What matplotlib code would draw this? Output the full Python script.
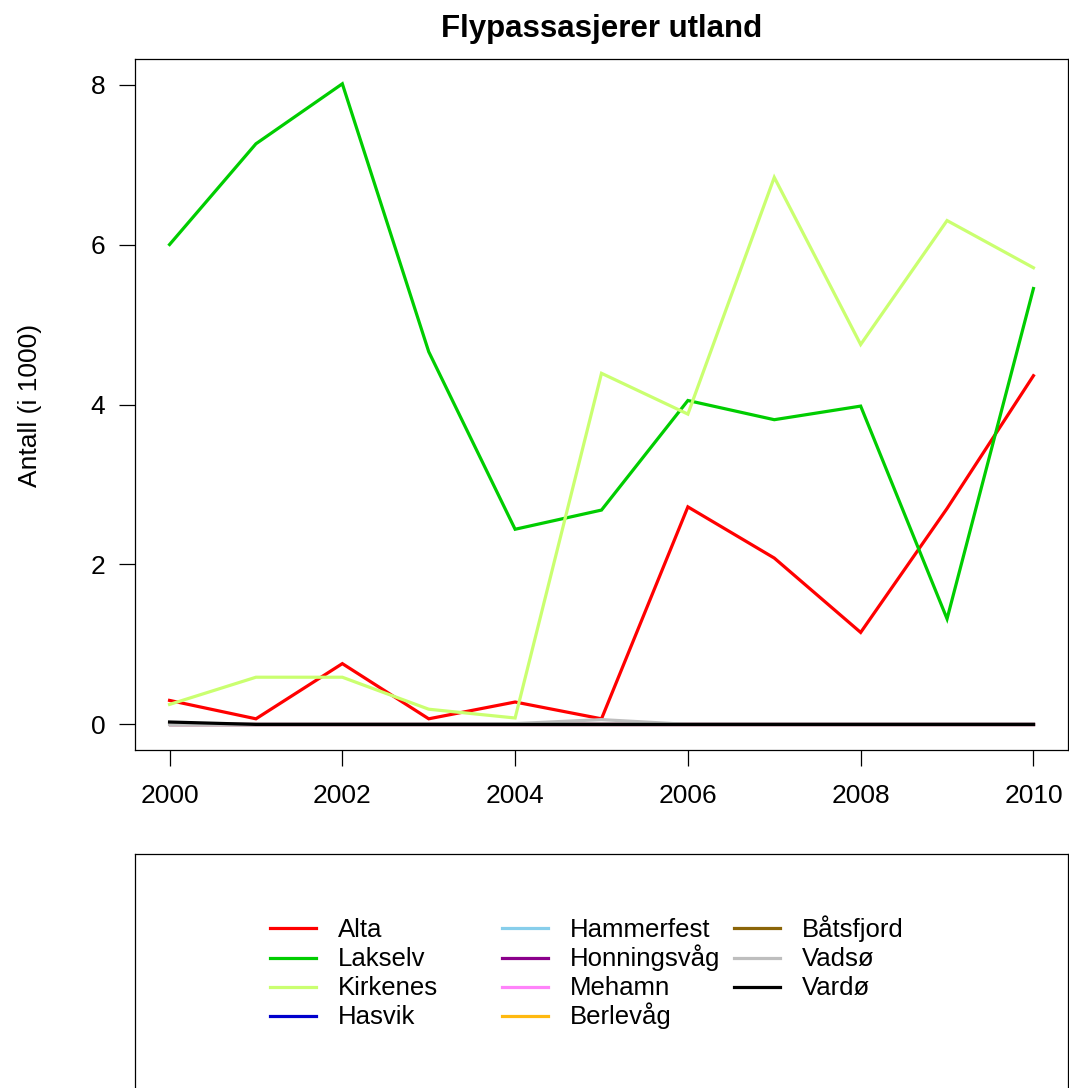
import matplotlib
matplotlib.use("Agg")
import matplotlib.pyplot as plt
from matplotlib.lines import Line2D

plt.rcParams["font.family"] = ["Liberation Sans", "DejaVu Sans"]

# ── data (antall passasjerer utland, i 1000) ─────────────────────
years = list(range(2000, 2011))

alta        = [0.30, 0.07, 0.76, 0.07, 0.28, 0.07, 2.72, 2.08, 1.15, 2.70, 4.36]
lakselv     = [6.00, 7.26, 8.01, 4.66, 2.44, 2.68, 4.05, 3.81, 3.98, 1.32, 5.45]
kirkenes    = [0.25, 0.59, 0.59, 0.19, 0.08, 4.39, 3.88, 6.84, 4.75, 6.30, 5.71]
hasvik      = [0, 0, 0, 0, 0, 0, 0, 0, 0, 0, 0]
hammerfest  = [0, 0, 0, 0, 0, 0, 0, 0, 0, 0, 0]
honningsvag = [0, 0, 0, 0, 0, 0, 0, 0, 0, 0, 0]
mehamn      = [0, 0, 0, 0, 0, 0, 0, 0, 0, 0, 0]
berlevag    = [0, 0, 0, 0, 0, 0, 0, 0, 0, 0, 0]
batsfjord   = [0, 0, 0, 0, 0, 0, 0, 0, 0, 0, 0]
vadso       = [0, 0, 0, 0, 0.01, 0.06, 0, 0, 0, 0, 0]
vardo       = [0.03, 0, 0, 0, 0, 0, 0, 0, 0, 0, 0]

names = ["Alta", "Lakselv", "Kirkenes", "Hasvik", "Hammerfest", "Honningsvåg",
         "Mehamn", "Berlevåg", "Båtsfjord", "Vadsø", "Vardø"]
series = [alta, lakselv, kirkenes, hasvik, hammerfest, honningsvag,
          mehamn, berlevag, batsfjord, vadso, vardo]
colors = ["#FF0000", "#00CD00", "#CAFF70", "#0000CD", "#87CEEB", "#8B008B",
          "#FF83FA", "#FFB90F", "#8B6508", "#BEBEBE", "#000000"]

W, H = 1069, 1088
fig = plt.figure(figsize=(W / 100, H / 100), dpi=100)

# ── hovedplott ──────────────────────────────────────────────────
ax = fig.add_axes([135 / W, (H - 750) / H, (1068 - 135) / W, (750 - 59) / H])
for name, vals, col in zip(names, series, colors):
    ax.plot(years, vals, color=col, lw=2.3, label=name, solid_joinstyle="miter")

ax.set_xlim(2000 - 0.4, 2010 + 0.4)
ax.set_ylim(-0.32, 8.32)
ax.set_xticks([2000, 2002, 2004, 2006, 2008, 2010])
ax.set_yticks([0, 2, 4, 6, 8])
ax.tick_params(axis="both", direction="out", length=11.5, width=0.9,
               labelsize=19, colors="black")
ax.tick_params(axis="x", pad=13)
ax.tick_params(axis="y", pad=10)
for sp in ax.spines.values():
    sp.set_linewidth(0.9)

fig.text(601.5 / W, 1 - 29 / H, "Flypassasjerer utland", ha="center",
         va="center", fontsize=22.5, fontweight="bold")
fig.text(30 / W, 1 - 405 / H, "Antall (i 1000)", ha="center", va="center",
         rotation=90, fontsize=19)

# ── legendeboks (R-stil, 3 kolonner à 4 rader) ──────────────────
lax = fig.add_axes([135 / W, 0, (1068 - 135) / W, (H - 854) / H])
lax.set_xticks([])
lax.set_yticks([])
lax.spines["bottom"].set_visible(False)
for sp in lax.spines.values():
    sp.set_linewidth(0.9)

col_x = [270, 502, 734]   # px, venstre kant av strek
row_y0, row_dy = 928.3, 29.2
seg_len, txt_off = 46, 68
for i, (name, col) in enumerate(zip(names, colors)):
    cx = col_x[i // 4]
    cy = row_y0 + (i % 4) * row_dy
    fig.add_artist(Line2D([cx / W, (cx + seg_len) / W], [1 - cy / H, 1 - cy / H],
                          transform=fig.transFigure, color=col, lw=2.3))
    fig.text((cx + txt_off) / W, 1 - (cy + 8.5) / H, name, ha="left",
             va="baseline", fontsize=18.5)

fig.savefig("out.png", dpi=100)
